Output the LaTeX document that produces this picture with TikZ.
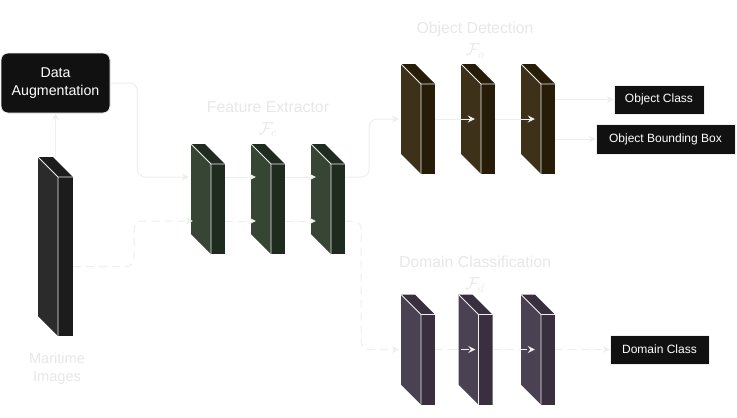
\documentclass[tikz,border=0pt]{standalone}
\usepackage{fontspec}
\setmainfont{Liberation Sans}
\usepackage{tikz}
\usetikzlibrary{arrows.meta}

\definecolor{linec}{HTML}{EEEEEE}
\definecolor{labelc}{HTML}{E8E8E8}
\definecolor{boxc}{HTML}{111111}
\definecolor{imgside}{HTML}{2B2B2B}
\definecolor{imgfront}{HTML}{1C1C1C}
\definecolor{feside}{HTML}{374534}
\definecolor{fefront}{HTML}{1F2B1F}
\definecolor{odside}{HTML}{3D3219}
\definecolor{odfront}{HTML}{261C08}
\definecolor{dcside}{HTML}{4A4252}
\definecolor{dcfront}{HTML}{3A2F3F}

\begin{document}
\begin{tikzpicture}[x=1pt,y=-1pt,>={Stealth[length=7pt,width=7pt,inset=2.5pt]},
  flow/.style={->,draw=linec,line width=1pt},
  dashflow/.style={flow,dash pattern=on 8pt off 5pt},
  layer/.style 2 args={minimum width=34pt,minimum height=110pt,inner sep=0pt,
    path picture={
      \coordinate (nw) at (path picture bounding box.north west);
      \coordinate (ne) at (path picture bounding box.north east);
      \coordinate (sw) at (path picture bounding box.south west);
      \coordinate (se) at (path picture bounding box.south east);
      \fill[#1] (nw) -- ([shift={(20pt,-20pt)}]nw) -- ([xshift=20pt]sw) -- ([yshift=20pt]sw) -- cycle;
      \fill[#2] (nw) -- ([xshift=-20pt]ne) -- ([yshift=-20pt]ne) -- ([shift={(20pt,-20pt)}]nw) -- cycle;
      \fill[#2] ([shift={(20pt,-20pt)}]nw) rectangle (se);
      \draw[linec,line width=0.8pt] (nw) -- ([shift={(20pt,-20pt)}]nw) -- ([yshift=-20pt]ne)
        ([shift={(20pt,-20pt)}]nw) -- ([xshift=20pt]sw);
    }},
  darkbox/.style={draw=linec,line width=0.8pt,fill=boxc,text=white,inner sep=0pt,
    font=\fontsize{12}{14}\selectfont},
  stagetext/.style={text=labelc,align=center,font=\fontsize{15.8}{22}\selectfont}]
  \path[use as bounding box,fill=white] (0,0) rectangle (737,418);

  % blocks
  \node[layer={imgside}{imgfront},minimum width=35pt,minimum height=179pt] (img) at (55.5,246.5) {};
  \node[layer={feside}{fefront}] (fe1) at (208,199) {};
  \node[layer={feside}{fefront}] (fe2) at (268,199) {};
  \node[layer={feside}{fefront}] (fe3) at (328,199) {};
  \node[layer={odside}{odfront}] (od1) at (418,119) {};
  \node[layer={odside}{odfront}] (od2) at (478,119) {};
  \node[layer={odside}{odfront}] (od3) at (538,119) {};
  \node[layer={dcside}{dcfront}] (dc1) at (418,349.5) {};
  \node[layer={dcside}{dcfront}] (dc2) at (475.5,349.5) {};
  \node[layer={dcside}{dcfront}] (dc3) at (538,349.5) {};

  % boxes
  \node[darkbox,rounded corners=7pt,minimum width=109pt,minimum height=60pt,align=center,
    font=\fontsize{14.2}{18}\selectfont] (aug) at (55.5,83) {Data\\Augmentation};
  \node[darkbox,minimum width=90pt,minimum height=29pt] (cls) at (659,99.5) {Object Class};
  \node[darkbox,minimum width=139pt,minimum height=30pt] (bbox) at (665.5,139) {Object Bounding Box};
  \node[darkbox,minimum width=99pt,minimum height=29pt] (dom) at (659.5,349.5) {Domain Class};

  % labels
  \node[stagetext,font=\fontsize{14.6}{18}\selectfont] (imglabel) at (57,369) {Maritime\\Images};
  \node[stagetext] (felabel) at (268,119) {Feature Extractor\\{\fontsize{18}{18}\selectfont$\mathcal{F}_e$}};
  \node[stagetext] (odlabel) at (475,40) {Object Detection\\{\fontsize{18}{18}\selectfont$\mathcal{F}_o$}};
  \node[stagetext] (dclabel) at (475,274) {Domain Classification\\{\fontsize{18}{18}\selectfont$\mathcal{F}_d$}};

  % connectors
  \draw[flow] (img.north) -- (aug.south);
  \draw[flow,rounded corners=8pt] (aug.east) -- ++(27,0) |- ([xshift=-2pt,yshift=22pt]fe1.west);
  \draw[dashflow,rounded corners=8pt] ([yshift=-20pt]img.east) -- ++(61,0) |- ([xshift=2pt,yshift=-22pt]fe1.west);
  \draw[flow] ([yshift=22pt]fe1.east) -- ([xshift=5pt,yshift=22pt]fe2.west);
  \draw[flow] ([yshift=22pt]fe2.east) -- ([xshift=5pt,yshift=22pt]fe3.west);
  \draw[dashflow] ([yshift=-22pt]fe1.east) -- ([xshift=5pt,yshift=-22pt]fe2.west);
  \draw[dashflow] ([yshift=-22pt]fe2.east) -- ([xshift=5pt,yshift=-22pt]fe3.west);
  \draw[flow,rounded corners=8pt] ([yshift=22pt]fe3.east) -- ++(24,0) |- ([xshift=-2pt]od1.west);
  \draw[dashflow,rounded corners=8pt] ([yshift=-22pt]fe3.east) -- ++(16,0) |- ([xshift=-2pt]dc1.west);
  \draw[flow] (od1.east) -- ([xshift=14pt]od2.west);
  \draw[flow] (od2.east) -- ([xshift=14pt]od3.west);
  \draw[dashflow] (dc1.east) -- ([xshift=17pt]dc2.west);
  \draw[dashflow] (dc2.east) -- ([xshift=14pt]dc3.west);
  \draw[flow] (od3.east |- cls.west) -- (cls.west);
  \draw[flow] (od3.east |- bbox.west) -- (bbox.west);
  \draw[dashflow] (dc3.east) -- (dom.west);
\end{tikzpicture}
\end{document}
